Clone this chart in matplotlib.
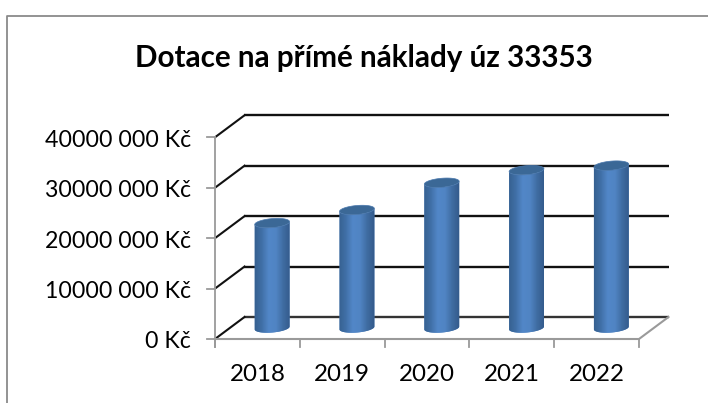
import numpy as np
import matplotlib
matplotlib.use('Agg')
import matplotlib.pyplot as plt
from matplotlib.colors import LinearSegmentedColormap
from matplotlib.lines import Line2D
from matplotlib.patches import PathPatch
from matplotlib.path import Path
from matplotlib.transforms import Affine2D

years = ['2018', '2019', '2020', '2021', '2022']
dotace = [20800000, 23400000, 28800000, 31300000, 32200000]
y_ticks = [0, 10000000, 20000000, 30000000, 40000000]
y_labels = ['0 Kč', '10000 000 Kč', '20000 000 Kč', '30000 000 Kč', '40000 000 Kč']

W, H = 708, 403
DEPTH_X, DEPTH_Y = 29.5, 22.0
RX, RY = 17.5, 4.5
TILT = np.deg2rad(5)
GRID = '#111111'
AXIS = '#9a9a9a'

plt.rcParams['font.family'] = ['Lato', 'DejaVu Sans']
fig = plt.figure(figsize=(W / 100, H / 100), dpi=100)
ax = fig.add_axes([215 / W, 1 - 339 / H, 424 / W, 201.7 / H])
ax.set_xlim(-0.5, 4.5)
ax.set_ylim(0, 40000000)
ax.axis('off')

# chart frame, only top and left are visible in the source image
fig.add_artist(Line2D([1, 6.5 / W, 6.5 / W], [1 - 15.5 / H, 1 - 15.5 / H, 0], color='#8a8a8a', lw=1.3))


def shifted(dx, dy):
    return ax.transData + Affine2D().translate(dx, dy)


back = shifted(DEPTH_X, DEPTH_Y)
for i, v in enumerate(y_ticks):
    ax.plot([-0.5, 4.5], [v, v], color=GRID if v else '#333333', lw=1.7, transform=back, clip_on=False, zorder=1, solid_capstyle='butt')
    x0, y0 = ax.transData.transform((-0.5, v))
    ax.add_line(Line2D([x0, x0 + DEPTH_X], [y0, y0 + DEPTH_Y], color=GRID, lw=1.5, transform=None, clip_on=False, zorder=1))
    ax.add_line(Line2D([x0 - 8, x0], [y0, y0], color=AXIS, lw=1.3, transform=None, clip_on=False, zorder=2))
    ax.text(x0 - 24, y0 - 3, y_labels[i], ha='right', va='center', fontsize=16.7, color='black', transform=None)

# floor and axes
x0, y0 = ax.transData.transform((-0.5, 0))
x1, y1 = ax.transData.transform((4.5, 0))
x_top = ax.transData.transform((-0.5, 40000000))[1]
ax.add_line(Line2D([x0, x0], [y0 - 8, x_top], color=AXIS, lw=1.3, transform=None, clip_on=False, zorder=2))
ax.add_line(Line2D([x0, x1, x1 + DEPTH_X], [y0, y0, y0 + DEPTH_Y], color=AXIS, lw=1.5, transform=None, clip_on=False, zorder=2))
for k in range(len(years) + 1):
    xt = ax.transData.transform((k - 0.5, 0))[0]
    ax.add_line(Line2D([xt, xt], [y0, y0 - 8], color=AXIS, lw=1.3, transform=None, clip_on=False, zorder=2))

cmap = LinearSegmentedColormap.from_list('cyl', ['#355f8e', '#406fa6', '#5287c8', '#5084c3', '#3f6ca1', '#33598a'])
t = np.linspace(0, 2 * np.pi, 80)
ex = RX * np.cos(t) * np.cos(TILT) - RY * np.sin(t) * np.sin(TILT)
ey = RX * np.cos(t) * np.sin(TILT) + RY * np.sin(t) * np.cos(TILT)
for i, v in enumerate(dotace):
    cx, base = ax.transData.transform((i, 0))
    cx += DEPTH_X / 2
    base += DEPTH_Y / 2
    top = ax.transData.transform((i, v))[1] + DEPTH_Y / 2
    # body outline: lower half of bottom ellipse plus top ellipse
    lower = t > np.pi
    order = np.argsort(ex[lower])
    low_x, low_y = ex[lower][order], ey[lower][order]
    xs = np.r_[cx + low_x, cx + low_x[::-1]]
    ys = np.r_[base + low_y, top + low_y[::-1]]
    body = PathPatch(Path(np.c_[xs, ys]), fc='#5084c3', ec='none', transform=None, zorder=3)
    ax.add_patch(body)
    im = ax.imshow(np.linspace(0, 1, 64)[None, :], cmap=cmap, aspect='auto', zorder=4,
                   extent=(0, 1, 0, 1), interpolation='bilinear')
    im.set_transform(Affine2D().scale(2 * RX + 2, top - base + 20).translate(cx - RX - 1, base - 10))
    im.set_clip_path(body)
    ax.add_patch(PathPatch(Path(np.c_[cx + ex, top + ey]), fc='#3b6896', ec='#4a78ad', lw=0.5, transform=None, zorder=5))
    ax.text(cx - DEPTH_X / 2, y0 - 35.5, years[i], ha='center', va='center', fontsize=17.4, color='black', transform=None)

ax.set_xlim(-0.5, 4.5)
ax.set_ylim(0, 40000000)
fig.text(364 / W, 1 - 58 / H, 'Dotace na přímé náklady úz 33353', ha='center', va='center', fontsize=21.3, fontweight='bold', color='black')
fig.savefig('out.png', dpi=100)
plt.close()
